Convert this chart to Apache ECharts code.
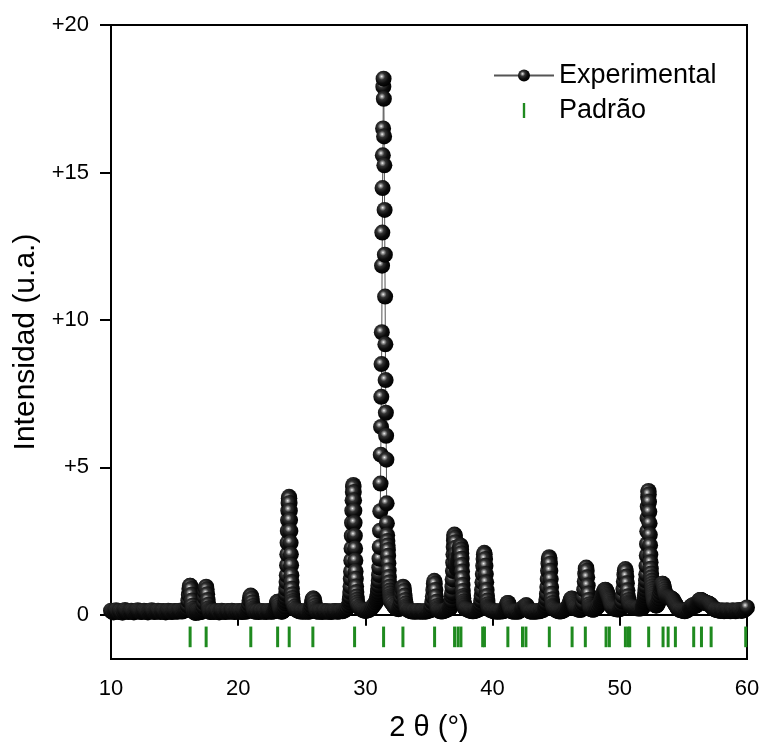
<!DOCTYPE html>
<html><head><meta charset="utf-8">
<script src="https://cdn.jsdelivr.net/npm/echarts@6/dist/echarts.min.js"></script>
<style>html,body{margin:0;padding:0;background:#fff}#chart{width:763px;height:747px}</style>
</head><body><div id="chart"></div>
<script>
// ---- Experimental pattern: intensity values per 2θ region (start, step given in segment list) ----
const bg10 = [.14,.1,.08,.12,.15,.11,.09,.13,.1,.07,.12,.16,.13,.1,.09,.12,.14,.11,.08,.1,.13,.15,.12,.1,.09,.11,.14,.12,.1,.08,.11,.13,.15,.12,.09,.1,.12,.14,.11,.09,.12,.13,.1,.08,.11,.14,.12,.1,.09,.12,.13,.11,.1,.12,.14,.12,.11,.13,.15,.17];
const pk16 = [.2,.31,.48,.68,.87,.98,.98,.87,.68,.48,.31,.2,.14,.1,.08,.12,.1,.06,.11,.13,.09,.1,.12,.08,.1,.11,.09,.12,.1,.12,.14,.18,.27,.41,.59,.78,.92,.95,.86,.7,.5,.34,.22,.15,.11,.09];
const bg18 = [.1,.12,.09,.11,.13,.1,.08,.12,.14,.11,.1,.09,.12,.13,.1,.11,.14,.12,.09,.1,.12,.11,.13,.1,.09,.12,.11,.1,.12];
const pk21 = [.13,.18,.25,.36,.49,.59,.65,.63,.54,.42,.3,.21,.15,.12];
const bg21 = [.11,.1,.12,.09,.11,.13,.1,.12,.11,.09,.12,.13,.11,.1,.11,.12];
const pk23 = [.12,.15,.19,.25,.32,.4,.44,.44,.4,.32,.25,.19,.15,.12,.1,.12,.11,.13,.14,.16,.2,.28];
const pk24 = [.39,.47,.57,.7,.88,1.11,1.34,1.68,2.05,2.44,2.84,3.21,3.53,3.79,3.95,4.0,3.95,3.79,3.53,3.21,2.84,2.44,2.05,1.68,1.34,1.11,.88,.7,.57,.47,.39];
const bg24 = [.27,.2,.16,.14,.12,.11,.12,.1,.11,.12,.11,.1,.11];
const pk26 = [.12,.16,.22,.31,.41,.5,.55,.55,.5,.41,.31,.22,.16,.12];
const bg26 = [.11,.1,.12,.11,.09,.12,.13,.1,.11,.12,.1,.09,.12,.11,.13,.12,.1,.11,.12,.13,.12,.14,.16,.19,.24,.32];
const pk29 = [.42,.51,.62,.77,.96,1.22,1.47,1.84,2.25,2.68,3.12,3.53,3.88,4.16,4.34,4.4,4.34,4.16,3.88,3.53,3.12,2.68,2.25,1.84,1.47,1.22,.96,.77,.62,.51,.42];
const bg29 = [.34,.27,.22,.18,.16,.14,.13,.14,.15,.17,.2,.24,.29,.35,.42];
const pk31 = [.48,.52,.57,.63,.7,.78,.88,1.0,1.15,1.35,1.6,1.9,2.3,2.85,3.51,4.45,5.43,6.37,7.39,8.5,9.58,11.84,12.96,14.47,15.58,16.49,17.91,18.18,17.5,16.22,15.24,13.73,12.21,10.79,9.17,7.96,6.85,6.07,5.26,3.78,3.1,2.7,2.5,2.35,2.2,2.0,1.75,1.5,1.28,1.1,.95,.82,.72,.63,.56,.5,.45];
const bg32 = [.4,.33,.27,.23,.2,.19];
const pk33 = [.2,.23,.28,.35,.45,.58,.73,.87,.95,.92,.81,.65,.5,.38,.29,.23,.18];
const bg33 = [.15,.13,.12,.11,.12,.1,.11,.13,.12,.1,.11,.12,.11,.1,.12,.13,.14,.15];
const pk35 = [.17,.22,.3,.44,.62,.84,1.05,1.15,1.05,.84,.62,.44,.3,.22,.17];
const bg36 = [.13,.12,.11,.12,.13,.15,.17,.19,.21];
const pk37 = [.23,.23,.25,.26,.27,.3,.33,.4,.48,.63,.74,.95,1.2,1.48,1.77,2.05,2.3,2.51,2.64,2.72,2.7,2.61,2.46,2.27,2.06,1.88,1.73,1.63,1.57,1.59,1.61,1.65,1.7,1.76,1.82,1.84,1.9,1.96,2.03,2.1,2.18,2.26,2.31,2.35,2.32,2.21,2.09,1.9,1.69,1.47,1.24,1.01,.81,.64,.56,.45,.38,.32,.29,.25,.24,.23,.22,.21,.2];
const bg38 = [.18,.16,.14,.13,.12,.12,.13,.14,.16,.18];
const pk39 = [.19,.21,.24,.28,.36,.48,.64,.84,1.1,1.38,1.66,1.89,2.05,2.1,2.05,1.89,1.66,1.38,1.1,.84,.64,.48,.36,.28,.24,.21,.19];
const bg40 = [.17,.15,.13,.12,.11,.12,.1,.11,.12,.11,.12,.13];
const pk41 = [.14,.16,.2,.24,.3,.36,.4,.4,.36,.3,.24,.2,.16,.14];
const bg41 = [.12,.11,.1,.12,.11,.1,.13,.15,.18];
const pk42 = [.2,.23,.24,.23,.23,.26,.3,.32,.32,.29,.25,.2,.17,.15,.13,.12];
const bg43 = [.11,.1,.12,.11,.1,.12,.13,.12,.14,.15,.17,.21];
const pk44 = [.26,.31,.4,.53,.71,.94,1.21,1.49,1.73,1.89,1.95,1.89,1.73,1.49,1.21,.94,.71,.53,.4,.31,.26];
const bg45 = [.22,.18,.15,.13,.12,.11,.12,.13,.15,.18,.21,.24];
const pk46 = [.26,.3,.34,.39,.45,.5,.54,.55,.54,.5,.45,.39,.33,.28,.24];
const bg46 = [.2,.18,.17,.17];
const pk47 = [.17,.19,.23,.3,.4,.6,.85,1.13,1.39,1.56,1.6,1.49,1.27,.99,.72,.5,.36,.28,.22,.19];
const bg48 = [.18,.17,.18,.21,.25,.3,.36,.42];
const pk49 = [.46,.52,.58,.65,.71,.77,.81,.84,.85,.84,.81,.77,.72,.67,.62,.58,.54,.49,.43,.37,.32,.28,.25];
const bg49 = [.22,.2,.19,.18,.18,.19];
const pk50 = [.2,.22,.26,.33,.45,.63,.87,1.13,1.36,1.51,1.55,1.47,1.3,1.07,.83,.63,.5,.42,.37,.33,.3];
const bg51 = [.28,.26,.24,.23,.22,.22,.21,.21,.22];
const pk52 = [.24,.27,.29,.32,.36,.41,.45,.51,.58,.66,.74,.85,.98,1.16,1.37,1.66,2.01,2.4,2.83,3.28,3.67,3.99,4.17,4.2,4.08,3.83,3.49,3.1,2.71,2.36,2.04,1.78,1.56,1.4,1.27,1.15,1.05,.96,.87,.79,.71,.64,.58,.51,.46,.42];
const pk53 = [.38,.34,.32,.31,.32,.34,.37,.41,.47,.55,.65,.76,.87,.96,1.02,1.05,1.05,1.01,.94,.86,.78,.71,.66,.63,.61,.6,.6,.6,.59,.58,.57,.56,.55,.55,.54,.52,.5,.47,.44,.41,.38,.35,.32,.29,.26,.23,.21,.19];
const bg55 = [.17,.15,.14,.13,.12,.13,.15,.18,.22];
const pk56 = [.24,.26,.28,.3,.31,.32,.32,.32,.31,.3,.3,.31,.32,.34,.37,.4,.43,.46,.48,.5,.5,.5,.49,.48,.47,.46,.45,.44,.43,.42,.41,.4,.39,.38,.38,.38,.38,.37,.36,.35,.33,.31,.29,.27,.25,.23,.21,.2,.19,.18];
const bg58 = [.16,.15,.14,.13,.15,.14,.12,.13,.15,.14,.13,.12,.14,.15,.13,.12,.14,.15,.16,.14,.13,.15,.17,.2,.25];

// [start 2θ, sampling step, intensities]
const expSegments = [
  [10.0,.1,bg10],[16.0,.04,pk16],[17.9,.1,bg18],[20.74,.04,pk21],[21.3,.1,bg21],
  [22.84,.04,pk23],[23.70,.02,pk24],[24.4,.1,bg24],[25.64,.04,pk26],[26.2,.1,bg26],
  [28.75,.02,pk29],[29.4,.1,bg29],[30.89,.02,pk31],[32.1,.1,bg32],[32.64,.04,pk33],
  [33.4,.1,bg33],[35.14,.04,pk35],[35.8,.1,bg36],[36.62,.02,pk37],[38.0,.1,bg38],
  [38.96,.03,pk39],[39.8,.1,bg40],[40.94,.04,pk41],[41.5,.1,bg41],[42.34,.04,pk42],
  [43.0,.1,bg43],[44.15,.03,pk44],[44.8,.1,bg45],[45.94,.04,pk46],[46.6,.1,bg46],
  [46.96,.04,pk47],[47.8,.1,bg48],[48.54,.04,pk49],[49.5,.1,bg49],[50.04,.04,pk50],
  [50.9,.1,bg51],[51.80,.02,pk52],[52.74,.04,pk53],[54.7,.1,bg55],[55.54,.04,pk56],
  [57.6,.1,bg58]
];

// ---- Padrão (reference pattern) line positions ----
const padrao = [16.22,17.48,20.99,23.1,24.01,25.87,29.15,31.43,32.95,35.44,37.01,37.28,37.51,39.22,39.36,41.2,42.35,42.62,44.46,46.25,47.29,48.92,49.18,50.44,50.66,50.78,52.27,53.4,53.8,54.37,55.81,56.42,57.18,59.9];
const padraoTop = -0.4, padraoBottom = -1.1;

const xTicks = [10,20,30,40,50,60];
const yTickValues = [0,5,10,15,20];

const expData = [];
expSegments.forEach(([s, st, vals]) => vals.forEach((v, i) => expData.push([+(s + i*st).toFixed(3), v])));

const FONT = '"Liberation Sans", Arial, sans-serif';
const ball = {type:'radial', x:0.38, y:0.36, r:0.66,
  colorStops:[{offset:0,color:'#f4f4f4'},{offset:0.12,color:'#a0a0a0'},{offset:0.32,color:'#333333'},{offset:0.65,color:'#0c0c0c'},{offset:1,color:'#000000'}]};

const chart = echarts.init(document.getElementById('chart'));
chart.setOption({
  animation:false,
  backgroundColor:'#fff',
  grid:{left:111,right:16,top:25,bottom:83,show:true,borderColor:'#000',borderWidth:2,backgroundColor:'rgba(0,0,0,0)'},
  legend:{orient:'vertical',left:493,top:62,padding:0,itemWidth:60,itemHeight:15,itemGap:8,selectedMode:false,
    textStyle:{fontSize:27,color:'#000',fontFamily:FONT},
    data:[{name:'Experimental'},{name:'Padrão',icon:'path://M0,0L3,0L3,19L0,19Z'}]},
  xAxis:{type:'value',min:xTicks[0],max:xTicks[xTicks.length-1],interval:10,
    name:'2 θ (°)',nameLocation:'middle',nameGap:54,
    nameTextStyle:{fontSize:29,color:'#000',fontFamily:FONT},
    axisLine:{lineStyle:{color:'#000',width:2}},
    axisTick:{length:11,lineStyle:{color:'#000',width:2}},
    axisLabel:{fontSize:22,color:'#000',margin:19,fontFamily:FONT},
    splitLine:{show:false}},
  yAxis:{type:'value',min:-1.5,max:20,
    name:'Intensidad (u.a.)',nameLocation:'middle',nameGap:69,nameRotate:90,
    nameTextStyle:{fontSize:30,color:'#000',fontFamily:FONT},
    axisLine:{show:true,lineStyle:{color:'#000',width:2}},
    axisTick:{show:true,length:11,customValues:yTickValues,lineStyle:{color:'#000',width:2}},
    axisLabel:{customValues:yTickValues,fontSize:22,color:'#000',margin:22,fontFamily:FONT,
      formatter:v => v > 0 ? '+' + v : String(v)},
    splitLine:{show:false}},
  series:[
    {type:'custom',name:'Padrão',z:2,
      itemStyle:{color:'#1f8a1f'},
      encode:{x:0,y:[1,2]},
      data:padrao.map(x => [x, padraoTop, padraoBottom]),
      renderItem:(params, api) => {
        const a = api.coord([api.value(0), api.value(1)]);
        const b = api.coord([api.value(0), api.value(2)]);
        return {type:'line',shape:{x1:a[0],y1:a[1],x2:b[0],y2:b[1]},style:{stroke:'#1f8a1f',lineWidth:3}};
      }},
    {type:'line',name:'Experimental',z:3,data:expData,
      symbol:'circle',symbolSize:16,showAllSymbol:true,clip:true,
      lineStyle:{color:'#555',width:1},
      itemStyle:{color:ball}}
  ]
});
</script></body></html>
